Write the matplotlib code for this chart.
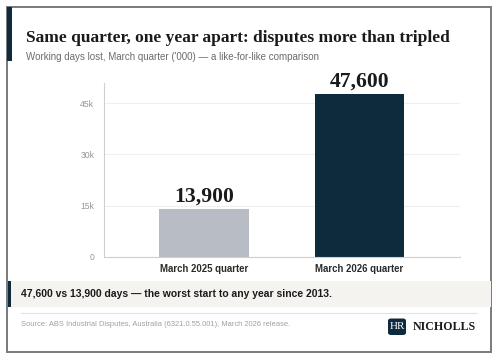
import matplotlib
matplotlib.use('agg')
import matplotlib.pyplot as plt
from matplotlib.patches import Rectangle, FancyBboxPatch
from matplotlib.ticker import FuncFormatter

categories = ['March 2025 quarter', 'March 2026 quarter']
days_lost = [13900, 47600]
value_labels = ['13,900', '47,600']
bar_colors = ['#b8bcc4', '#0e2a3d']
yticks = [0, 15000, 30000, 45000]

NAVY = '#0e2a3d'
SANS = 'Liberation Sans'
SERIF = 'Liberation Serif'

W, H = 498, 360
fig = plt.figure(figsize=(W / 100, H / 100), dpi=100)
fig.patch.set_facecolor('white')


def fx(px):
    return px / W


def fy(py):
    return 1 - py / H


# card frame + accent
fig.patches.append(Rectangle((fx(7), fy(352)), fx(484), 345 / H, transform=fig.transFigure,
                             facecolor='white', edgecolor='#7a7a7a', lw=1.4, zorder=-2))
fig.patches.append(Rectangle((fx(7), fy(60.5)), fx(5.3), 53.5 / H, transform=fig.transFigure,
                             facecolor=NAVY, edgecolor='none', zorder=1))

fig.text(fx(26), fy(38), 'Same quarter, one year apart: disputes more than tripled',
         family=SERIF, weight='bold', size=12.5, color='#1a1a1a', va='center')
fig.text(fx(26), fy(57.5), "Working days lost, March quarter ('000) \u2014 a like-for-like comparison",
         family=SANS, size=7.0, color='#6b6b6b', va='center')

ax = fig.add_axes([fx(104), fy(256.7), fx(356), (256.7 - 83) / H])
ax.set_zorder(1)
ax.patch.set_alpha(0)
x = range(len(categories))
bars = ax.bar(x, days_lost, width=0.577, color=bar_colors, zorder=2)
for b, lab in zip(bars, value_labels):
    ax.text(b.get_x() + b.get_width() / 2, b.get_height() + 900, lab, ha='center', va='bottom',
            family=SERIF, weight='bold', size=15.6, color='#1a1a1a')

ax.set_xlim(-0.643, 1.646)
ax.set_ylim(0, 50950)
ax.set_yticks(yticks)
ax.yaxis.set_major_formatter(FuncFormatter(lambda v, p: '0' if v == 0 else '%dk' % (v / 1000)))
ax.set_xticks(list(x))
ax.set_xticklabels(categories, family=SANS, weight='bold', size=6.9, color='#2a2a2a')
for t in ax.get_yticklabels():
    t.set_family(SANS)
    t.set_fontsize(6.2)
    t.set_color('#959595')
ax.tick_params(length=0)
ax.tick_params(axis='y', pad=7)
ax.tick_params(axis='x', pad=5)
ax.grid(axis='y', color='#efefef', lw=0.8, zorder=0)
ax.set_axisbelow(True)
for s in ['top', 'right']:
    ax.spines[s].set_visible(False)
ax.spines['left'].set_color('#cfcfcf')
ax.spines['bottom'].set_color('#cfcfcf')
ax.spines['left'].set_linewidth(0.8)
ax.spines['bottom'].set_linewidth(0.8)

# callout strip
fig.patches.append(Rectangle((fx(7.5), fy(307)), fx(483), 26 / H, transform=fig.transFigure,
                             facecolor='#f5f3f0', edgecolor='none', zorder=1))
fig.patches.append(Rectangle((fx(7.5), fy(307)), fx(3.8), 26 / H, transform=fig.transFigure,
                             facecolor=NAVY, edgecolor='none', zorder=2))
fig.text(fx(21), fy(294), '47,600 vs 13,900 days \u2014 the worst start to any year since 2013.',
         family=SANS, weight='bold', size=7.5, color='#1a1a1a', va='center', zorder=3)

# separator + source
fig.lines.append(plt.Line2D([fx(21), fx(477)], [fy(312.7), fy(312.7)], transform=fig.transFigure,
                            color='#e2e2e2', lw=0.8))
fig.text(fx(21), fy(324), 'Source: ABS Industrial Disputes, Australia (6321.0.55.001), March 2026 release.',
         family=SANS, size=5.45, color='#a0a0a0', va='center')

# logo
fig.patches.append(FancyBboxPatch((fx(388), fy(335)), fx(18), 16.5 / H, transform=fig.transFigure,
                                  boxstyle='round,pad=0,rounding_size=0.006',
                                  facecolor=NAVY, edgecolor='none', zorder=2))
fig.text(fx(397), fy(326.5), 'HR', family=SERIF, size=8, color='white', ha='center', va='center', zorder=3)
fig.text(fx(413), fy(326.5), 'NICHOLLS', family=SERIF, weight='bold', size=8.6, color='#1a1a1a',
         va='center')

fig.savefig('out.png', dpi=100)
